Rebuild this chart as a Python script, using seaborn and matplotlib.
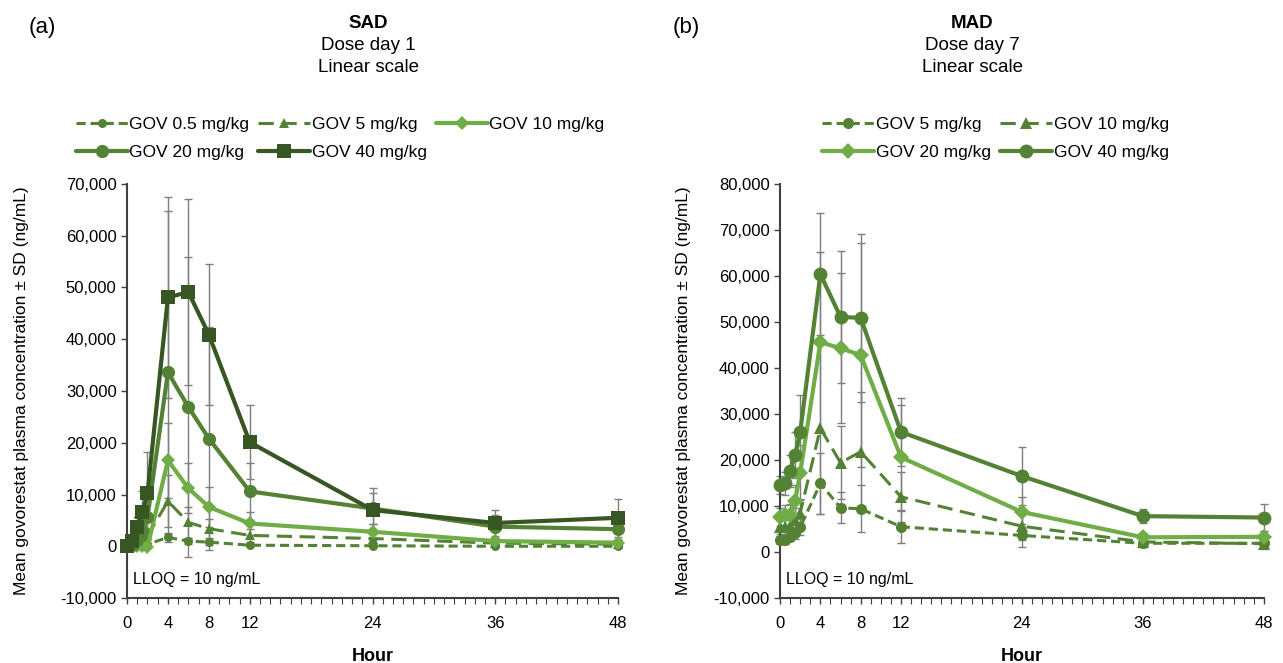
import numpy as np
import pandas as pd
import matplotlib
matplotlib.use('Agg')
import matplotlib.pyplot as plt
import seaborn as sns
from matplotlib.ticker import FuncFormatter, MultipleLocator

sns.set_theme(style='white')
plt.rcParams['font.family'] = ['Liberation Sans', 'DejaVu Sans']
plt.rcParams['text.color'] = 'black'
plt.rcParams['axes.labelcolor'] = 'black'

# sampling times (hours)
hours = [0, 0.5, 1, 1.5, 2, 4, 6, 8, 12, 24, 36, 48]

# (a) SAD, dose day 1 - means and SDs (ng/mL)
sad_labels = ['GOV 0.5 mg/kg', 'GOV 5 mg/kg', 'GOV 10 mg/kg', 'GOV 20 mg/kg', 'GOV 40 mg/kg']
sad_0p5 = [0, 0, 100, 200, 400, 1700, 1000, 800, 200, 100, 0, 0]
sad_0p5_sd = [0, 0, 100, 200, 300, 900, 600, 500, 200, 100, 0, 0]
sad_5 = [0, 100, 400, 1000, 2000, 8700, 4600, 3400, 2100, 1500, 600, 400]
sad_5_sd = [0, 100, 300, 800, 1500, 5000, 3000, 1800, 1200, 900, 400, 300]
sad_10 = [0, 0, 0, 0, -200, 16600, 11200, 7600, 4400, 2800, 1000, 700]
sad_10_sd = [0, 0, 0, 0, 200, 7200, 4800, 3800, 2300, 1500, 600, 500]
sad_20 = [0, 300, 1200, 3000, 5600, 33600, 26900, 20800, 10600, 7300, 3800, 3300]
sad_20_sd = [0, 300, 1000, 2500, 4000, 31200, 28900, 21500, 5500, 3000, 2200, 1900]
sad_40 = [0, 1000, 3700, 6600, 10200, 48100, 49100, 40900, 20100, 7000, 4500, 5500]
sad_40_sd = [0, 700, 2000, 4000, 8000, 19400, 18000, 13600, 7100, 4300, 2500, 3700]

# (b) MAD, dose day 7 - means and SDs (ng/mL)
mad_labels = ['GOV 5 mg/kg', 'GOV 10 mg/kg', 'GOV 20 mg/kg', 'GOV 40 mg/kg']
mad_5 = [2600, 2700, 3300, 4100, 5400, 14900, 9600, 9400, 5500, 3600, 1900, 1900]
mad_5_sd = [800, 900, 1000, 1300, 1800, 6600, 3400, 5100, 3500, 2500, 900, 1300]
mad_10 = [5400, 5400, 5600, 7000, 8500, 26900, 19400, 21800, 12000, 5600, 2200, 1800]
mad_10_sd = [1500, 1500, 1700, 2500, 3000, 18600, 7900, 12900, 5400, 3000, 1200, 1000]
mad_20 = [7600, 8000, 8000, 11100, 17200, 45600, 44300, 42800, 20600, 8700, 3200, 3300]
mad_20_sd = [2000, 2200, 2500, 3500, 6000, 19600, 16300, 24400, 11400, 3200, 1000, 1200]
mad_40 = [14600, 15000, 17600, 21100, 26100, 60400, 51100, 50900, 26100, 16500, 7800, 7500]
mad_40_sd = [2000, 2500, 3500, 5000, 8000, 13300, 14300, 18200, 7400, 6300, 1500, 2900]

dark = '#375623'
mid = '#548235'
light = '#70ad47'
err_col = '#7f7f7f'

sad_series = [
    (sad_0p5, sad_0p5_sd, mid, 'o', (0, (3, 1.6)), 6.5, 2.2),
    (sad_5, sad_5_sd, mid, '^', (0, (5, 2.5)), 7, 2.2),
    (sad_10, sad_10_sd, light, 'D', '-', 7, 3),
    (sad_20, sad_20_sd, mid, 'o', '-', 9.5, 3),
    (sad_40, sad_40_sd, dark, 's', '-', 10, 3),
]
mad_series = [
    (mad_5, mad_5_sd, mid, 'o', (0, (3, 1.6)), 8, 2.2),
    (mad_10, mad_10_sd, mid, '^', (0, (5, 2.5)), 8, 2.2),
    (mad_20, mad_20_sd, light, 'D', '-', 8, 3),
    (mad_40, mad_40_sd, mid, 'o', '-', 10, 3),
]

fig = plt.figure(figsize=(12.83, 6.63), dpi=100)
ax1 = fig.add_axes([0.099, 0.098, 0.3827, 0.6245])
ax2 = fig.add_axes([0.608, 0.098, 0.377, 0.6245])


def draw_panel(ax, series, labels, ymax):
    for (mean, sd, col, mk, ls, ms, lw), lab in zip(series, labels):
        ax.errorbar(hours, mean, yerr=sd, fmt='none', ecolor=err_col,
                    elinewidth=1, capsize=3, capthick=1, zorder=1, clip_on=False)
        sns.lineplot(x=hours, y=mean, ax=ax, color=col, marker=mk,
                     linestyle=ls, linewidth=lw, markersize=ms,
                     markeredgewidth=0, label=lab, zorder=3, clip_on=False,
                     errorbar=None, sort=False)
    ax.set_xlim(0, 48)
    ax.set_ylim(-10000, ymax)
    ax.set_xticks([0, 4, 8, 12, 24, 36, 48])
    ax.xaxis.set_minor_locator(MultipleLocator(1))
    ax.yaxis.set_major_locator(MultipleLocator(10000))
    ax.yaxis.set_major_formatter(FuncFormatter(lambda v, p: f'{int(v):,}'))
    ax.tick_params(axis='both', which='major', labelsize=12, colors='#404040',
                   labelcolor='black', length=4, width=1, direction='out',
                   left=True, bottom=True)
    ax.tick_params(axis='x', which='major', pad=9)
    ax.tick_params(axis='x', which='minor', length=4, width=0.8, colors='#404040',
                   bottom=True, direction='out')
    for s in ['top', 'right']:
        ax.spines[s].set_visible(False)
    for s in ['left', 'bottom']:
        ax.spines[s].set_color('#404040')
        ax.spines[s].set_linewidth(1.5)
    ax.set_xlabel('Hour', fontsize=13, fontweight='bold', labelpad=12)
    ax.set_ylabel('Mean govorestat plasma concentration \u00b1 SD (ng/mL)', fontsize=12.5)
    ax.text(0.012, 0.045, 'LLOQ = 10 ng/mL', fontsize=11.5, ha='left', va='center',
            transform=ax.transAxes)
    ax.get_legend().remove()


draw_panel(ax1, sad_series, sad_labels, 70000)
draw_panel(ax2, mad_series, mad_labels, 80000)
ax1.yaxis.set_label_coords(-0.2, 0.5)
ax2.yaxis.set_label_coords(-0.185, 0.5)

# legends (row-major order as in the reference)
h1, l1 = ax1.get_legend_handles_labels()
order1 = [0, 3, 1, 4, 2]
fig.legend([h1[i] for i in order1], [l1[i] for i in order1], ncol=3,
           loc='center', bbox_to_anchor=(0.265, 0.791), frameon=False,
           fontsize=12.5, handlelength=3.0, handletextpad=0.1, columnspacing=0.5,
           labelspacing=0.75)
h2, l2 = ax2.get_legend_handles_labels()
order2 = [0, 2, 1, 3]
fig.legend([h2[i] for i in order2], [l2[i] for i in order2], ncol=2,
           loc='center', bbox_to_anchor=(0.776, 0.791), frameon=False,
           fontsize=12.5, handlelength=3.0, handletextpad=0.1, columnspacing=0.5,
           labelspacing=0.75)

# panel titles
fig.text(0.033, 0.958, '(a)', fontsize=16, ha='center', va='center')
fig.text(0.287, 0.965, 'SAD', fontsize=13.5, fontweight='bold', ha='center', va='center')
fig.text(0.287, 0.931, 'Dose day 1', fontsize=13.5, ha='center', va='center')
fig.text(0.287, 0.898, 'Linear scale', fontsize=13.5, ha='center', va='center')
fig.text(0.535, 0.958, '(b)', fontsize=16, ha='center', va='center')
fig.text(0.758, 0.965, 'MAD', fontsize=13.5, fontweight='bold', ha='center', va='center')
fig.text(0.758, 0.931, 'Dose day 7', fontsize=13.5, ha='center', va='center')
fig.text(0.758, 0.898, 'Linear scale', fontsize=13.5, ha='center', va='center')

fig.savefig('out.png', dpi=100)
